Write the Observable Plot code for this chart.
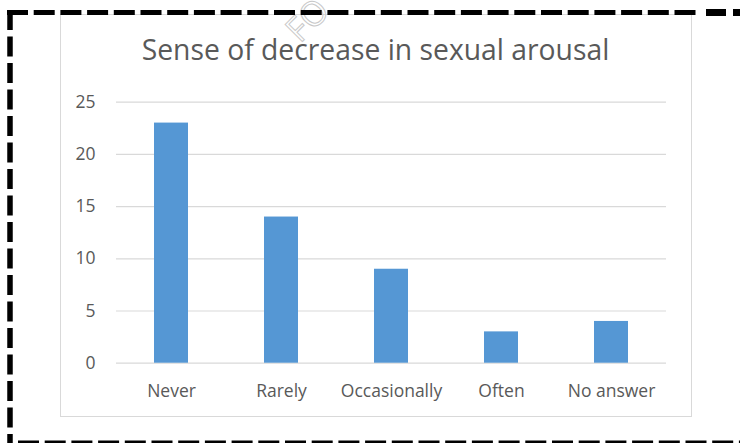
<!DOCTYPE html>
<html>
<head>
<meta charset="utf-8">
<script src="https://cdn.jsdelivr.net/npm/d3@7"></script>
<script src="https://cdn.jsdelivr.net/npm/@observablehq/plot@0.6"></script>
<style>
  html, body { margin: 0; padding: 0; background: #fff; }
  #wrap { position: relative; width: 740px; height: 443px; overflow: hidden; font-family: "Open Sans", sans-serif; }
  #box { position: absolute; left: 60px; top: 14px; width: 630px; height: 401px; border: 1.5px solid #d9d9d9; }
  #title { position: absolute; left: 60px; top: 30px; width: 631px; text-align: center; font-size: 28.3px; color: #595959; white-space: nowrap; }
  #chart { position: absolute; left: 0; top: 0; }
  #deco { position: absolute; left: 0; top: 0; }
</style>
</head>
<body>
<div id="wrap">
  <div id="box"></div>
  <div id="chart"></div>
  <div id="title">Sense of decrease in sexual arousal</div>
  <svg id="deco" width="740" height="443">
    <text x="300" y="44" transform="rotate(-45 300 44)" font-family="Open Sans" font-size="34" fill="none" stroke="#c8c8c8" stroke-width="1">FO</text>
    <line x1="7" y1="12.5" x2="700" y2="12.5" stroke="#000" stroke-width="5" stroke-dasharray="21 5.7"/>
    <line x1="706" y1="12.5" x2="740" y2="12.5" stroke="#000" stroke-width="7" stroke-dasharray="20 7"/>
    <line x1="10" y1="10" x2="10" y2="443" stroke="#000" stroke-width="5.5" stroke-dasharray="20 6.5"/>
    <line x1="18" y1="442.5" x2="740" y2="442.5" stroke="#000" stroke-width="4" stroke-dasharray="21 5.7"/>
  </svg>
</div>
<script>
const categories = ["Never", "Rarely", "Occasionally", "Often", "No answer"];
const values = [23, 14, 9, 3, 4];
const yTicks = [0, 5, 10, 15, 20, 25];

const data = categories.map((c, i) => ({category: c, value: values[i]}));

const chart = Plot.plot({
  width: 740,
  height: 443,
  marginLeft: 116,
  marginRight: 74,
  marginTop: 101.7,
  marginBottom: 80.3,
  style: {background: "transparent", fontFamily: "Open Sans", color: "#595959"},
  x: {domain: categories, paddingInner: 0.69, paddingOuter: 0.345, label: null, tickSize: 0, tickPadding: 21},
  y: {domain: [0, 25], ticks: yTicks, label: null, tickSize: 0, tickPadding: 21},
  marks: [
    Plot.ruleY(yTicks, {stroke: "#d9d9d9", strokeWidth: 1.2}),
    Plot.barY(data, {x: "category", y: "value", fill: "#5597d4"}),
    Plot.axisY({ticks: yTicks, tickSize: 0, tickPadding: 21, fontSize: 17.5, fill: "#595959", label: null}),
    Plot.axisX({tickSize: 0, tickPadding: 21, fontSize: 17.5, fill: "#595959", label: null})
  ]
});
document.getElementById("chart").appendChild(chart);
</script>
</body>
</html>
